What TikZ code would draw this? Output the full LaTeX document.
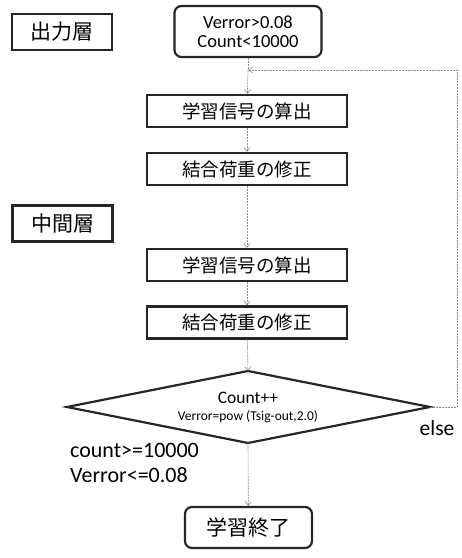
\documentclass[tikz,border=0pt]{standalone}
\usepackage{fontspec}
\setmainfont{Carlito}
\newfontfamily\jp{Noto Sans CJK JP}
\usetikzlibrary{shapes.geometric,arrows.meta}
\begin{document}
\begin{tikzpicture}[x=1pt,y=1pt,
  box/.style={draw=black!85,line width=2.2pt,minimum width=200pt,minimum height=32pt,inner sep=0pt,font=\jp\fontsize{18.5}{20}\selectfont},
  layer/.style={draw=black!85,line width=2.2pt,minimum width=100pt,minimum height=36pt,inner sep=0pt,font=\jp\fontsize{21}{24}\selectfont},
  rbox/.style={draw=black!85,line width=2.2pt,rounded corners=7pt,inner sep=0pt},
  conn/.style={draw=black!45,line width=0.6pt,dashed,dash pattern=on 2pt off 1pt},
  arr/.style={conn,-{Straight Barb[length=4pt,width=6pt]}}
]
\useasboundingbox (0,0) rectangle (462,558);
\node[layer] (out) at (62,526) {出力層};
\node[layer] (mid) at (62.5,334.5) {中間層};
\node[rbox,minimum width=147pt,minimum height=51pt,align=center,font=\fontsize{18.5}{19}\selectfont] (start) at (248,526.5) {Verror>0.08\\Count<10000};
\node[box] (b1) at (247,447) {学習信号の算出};
\node[box] (b2) at (247,389) {結合荷重の修正};
\node[box] (b3) at (247,293) {学習信号の算出};
\node[box] (b4) at (247,235.5) {結合荷重の修正};
\coordinate (dtop) at (248,187);
\coordinate (dbot) at (248,115);
\coordinate (dleft) at (67,151);
\coordinate (dright) at (430,151);
\draw[draw=black!85,line width=2.2pt,line join=miter] (dtop) -- (dright) -- (dbot) -- (dleft) -- cycle;
\node[align=center,inner sep=0pt] (dec) at (248,151)
  {{\fontsize{17.5}{18}\selectfont Count++}\\[5pt]{\fontsize{13.5}{14}\selectfont Verror=pow (Tsig-out,2.0)}};
\node[rbox,minimum width=127pt,minimum height=41pt,font=\jp\fontsize{21}{24}\selectfont] (end) at (248.5,30.5) {学習終了};
\node[anchor=west,align=left,font=\fontsize{22}{25}\selectfont,inner sep=0pt] (cond) at (70,95.5) {count>=10000\\Verror<=0.08};
\node[font=\fontsize{21.5}{22}\selectfont,inner sep=0pt] (else) at (437,130) {else};
\coordinate (j) at (248,488);
\coordinate (r1) at (457,151);
\coordinate (r2) at (457,488);
\draw[conn] (start) -- (j);
\draw[arr] (j) -- (b1);
\draw[arr] (b1) -- (b2);
\draw[arr] (b2) -- (b3);
\draw[arr] (b3) -- (b4);
\draw[arr] (b4) -- (dtop);
\draw[arr] (dbot) -- (end);
\draw[arr] (dright) -- (r1) -- (r2) -- (j);
\end{tikzpicture}
\end{document}
